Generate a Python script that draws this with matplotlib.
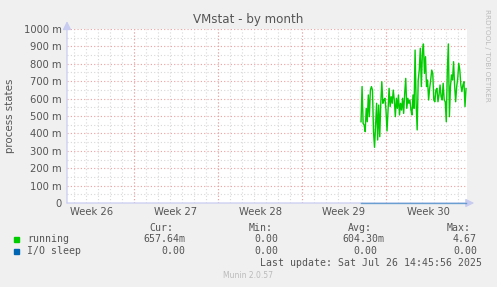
import numpy as np
import matplotlib
matplotlib.use("Agg")
import matplotlib.pyplot as plt

W, H = 497, 287

# running processes, 2h samples from day 24.5 to 33.25 of the month window
running = [
    0.467, 0.669, 0.458, 0.448, 0.410, 0.544, 0.467, 0.621, 0.496, 0.649,
    0.669, 0.649, 0.410, 0.320, 0.448, 0.573, 0.362, 0.563, 0.381, 0.573,
    0.697, 0.573, 0.592, 0.602, 0.534, 0.414, 0.534, 0.659, 0.554, 0.611,
    0.573, 0.649, 0.592, 0.496, 0.602, 0.544, 0.621, 0.506, 0.573, 0.534,
    0.602, 0.515, 0.630, 0.716, 0.544, 0.602, 0.573, 0.592, 0.534, 0.506,
    0.621, 0.544, 0.879, 0.573, 0.420, 0.707, 0.764, 0.889, 0.669, 0.860,
    0.914, 0.745, 0.841, 0.669, 0.707, 0.592, 0.659, 0.707, 0.764, 0.745,
    0.592, 0.582, 0.649, 0.659, 0.582, 0.621, 0.678, 0.611, 0.592, 0.688,
    0.592, 0.582, 0.467, 0.764, 0.914, 0.496, 0.669, 0.736, 0.707, 0.812,
    0.678, 0.582, 0.669, 0.716, 0.803, 0.764, 0.678, 0.640, 0.678, 0.697,
    0.554, 0.658,
]
io_sleep = [0.0] * len(running)

week_labels = ["Week 26", "Week 27", "Week 28", "Week 29", "Week 30"]
y_ticks = [0, 0.1, 0.2, 0.3, 0.4, 0.5, 0.6, 0.7, 0.8, 0.9, 1.0]

legend_rows = [
    ("running", "#00CC00", "657.64m", "0.00", "604.30m", "4.67"),
    ("I/O sleep", "#0066B3", "0.00", "0.00", "0.00", "0.00"),
]

TXT = "#555555"
MONO = "DejaVu Sans Mono"

fig = plt.figure(figsize=(W / 100, H / 100), dpi=100, facecolor="#F0F0F0")
ax = fig.add_axes([67 / W, 84 / H, 400 / W, 174 / H])
ax.set_facecolor("white")

x_end = 33.33
ax.set_xlim(0, x_end)
ax.set_ylim(0, 1.0)

# grid: daily minor, weekly major, 50m minor, 100m major
day_lines = np.arange(0.583, x_end, 1.0)
week_lines = np.arange(5.583, x_end, 7.0)
ax.vlines(day_lines, 0, 1, colors="#D8D8D8", lw=0.8, linestyles=(0, (1, 2)), zorder=1)
ax.vlines(week_lines, 0, 1, colors="#F0A0A0", lw=0.8, linestyles=(0, (1, 2)), zorder=1.1)
ax.hlines(np.arange(0.05, 1.0, 0.1), 0, x_end, colors="#D8D8D8", lw=0.8,
          linestyles=(0, (1, 2)), zorder=1)
ax.hlines(y_ticks[1:], 0, x_end, colors="#F0A0A0", lw=0.8,
          linestyles=(0, (1, 2)), zorder=1.1)

xs = np.linspace(24.5, 33.25, len(running))
ax.plot(xs, running, color="#00CC00", lw=1.0, zorder=3)
ax.plot(xs, io_sleep, color="#0066B3", lw=1.0, alpha=0.5, zorder=3, clip_on=False)

for s in ax.spines.values():
    s.set_visible(False)

# axis lines with arrows
ax.annotate("", xy=(0, 1.045), xytext=(0, 0), xycoords="axes fraction",
            arrowprops=dict(arrowstyle="-|>,head_width=0.25,head_length=0.5",
                            color="#C8CCF0", lw=0.9, shrinkA=0, shrinkB=0),
            annotation_clip=False, zorder=2)
ax.annotate("", xy=(1.018, 0), xytext=(0, 0), xycoords="axes fraction",
            arrowprops=dict(arrowstyle="-|>,head_width=0.25,head_length=0.5",
                            color="#C8CCF0", lw=0.9, shrinkA=0, shrinkB=0),
            annotation_clip=False, zorder=2)

ylabels = ["0"] + [f"{int(round(v * 1000))} m" for v in y_ticks[1:]]
ax.set_yticks(y_ticks, ylabels)
week_mid = week_lines[0] - 3.5 + 7.0 * np.arange(len(week_labels))
ax.set_xticks(week_mid, week_labels)
ax.tick_params(axis="both", length=0, labelsize=7.2, labelcolor=TXT, pad=4)
ax.tick_params(axis="x", pad=3)

ax.set_ylabel("process states", fontsize=7.4, color=TXT, labelpad=6)
fig.text(248 / W, 1 - 19 / H, "VMstat - by month", ha="center", va="center",
         fontsize=8.6, color=TXT)
fig.text(487 / W, 1 - 55 / H, "RRDTOOL / TOBI OETIKER", ha="center", va="center",
         rotation=270, fontsize=5.2, color="#BBBBBB")


def px(x, y, s, **kw):
    fig.text(x / W, 1 - y / H, s, va="center", **kw)


mono = dict(family=MONO, fontsize=7.1, color=TXT)
px(149, 228, "Cur:", **mono)
px(249, 228, "Min:", **mono)
px(348, 228, "Avg:", **mono)
px(447, 228, "Max:", **mono)

row_y = [239, 251]
for (name, col, cur, mn, avg, mx), y in zip(legend_rows, row_y):
    fig.patches.append(plt.Rectangle((14 / W, 1 - (y + 3) / H), 5 / W, 5 / H,
                                     transform=fig.transFigure, color=col))
    px(27, y, name, **mono)
    px(185, y, cur, ha="right", **mono)
    px(278, y, mn, ha="right", **mono)
    px(384 if avg.endswith("m") else 377, y, avg, ha="right", **mono)
    px(477, y, mx, ha="right", **mono)

px(482, 263, "Last update: Sat Jul 26 14:45:56 2025", ha="right", **mono)
px(248, 276, "Munin 2.0.57", ha="center", fontsize=5.5, color="#BBBBBB")

fig.savefig("out.png", dpi=100, facecolor=fig.get_facecolor())
